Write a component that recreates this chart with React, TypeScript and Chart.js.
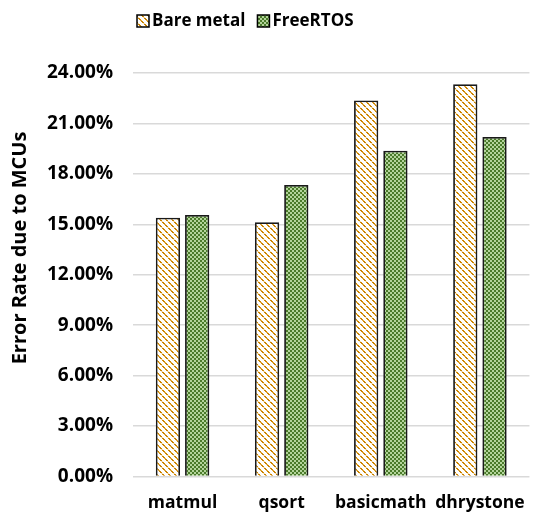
import React, { useEffect, useRef } from "react";
import { Chart, registerables } from "chart.js";

Chart.register(...registerables);

const categories = ["matmul", "qsort", "basicmath", "dhrystone"];
const bareMetal = [15.39, 15.12, 22.36, 23.33];
const freeRTOS = [15.55, 17.34, 19.38, 20.19];
const seriesNames = ["Bare metal", "FreeRTOS"];
const yTicks = [0, 3, 6, 9, 12, 15, 18, 21, 24];
const yTitle = "Error Rate due to MCUs";

const FONT = "'Open Sans'";
const FS = 17;

function stripePattern(ctx: CanvasRenderingContext2D): CanvasPattern {
  const c = document.createElement("canvas");
  c.width = 6;
  c.height = 6;
  const g = c.getContext("2d")!;
  g.fillStyle = "#ffffff";
  g.fillRect(0, 0, 6, 6);
  const cols = ["#CC8400", "#CC8400", "#E0A636", "#CC8400", "#CC8400", "#F3D9A6"];
  for (let i = 0; i < 6; i++) {
    g.fillStyle = cols[i];
    g.fillRect(i, i, 1, 1);
    g.fillRect((i + 1) % 6, i, 1, 1);
  }
  return ctx.createPattern(c, "repeat")!;
}

function checkerPattern(ctx: CanvasRenderingContext2D): CanvasPattern {
  const c = document.createElement("canvas");
  c.width = 4;
  c.height = 4;
  const g = c.getContext("2d")!;
  g.fillStyle = "#B3D49B";
  g.fillRect(0, 0, 4, 4);
  g.fillStyle = "#4A7A2A";
  g.fillRect(0, 0, 2, 2);
  g.fillRect(2, 2, 2, 2);
  return ctx.createPattern(c, "repeat")!;
}

export default function App() {
  const ref = useRef<HTMLCanvasElement>(null);
  useEffect(() => {
    const canvas = ref.current!;
    const ctx = canvas.getContext("2d")!;
    const pStripe = stripePattern(ctx);
    const pCheck = checkerPattern(ctx);
    const fills = [pStripe, pCheck];

    const legendPlugin = {
      id: "customLegend",
      afterDraw(chart: any) {
        const c = chart.ctx as CanvasRenderingContext2D;
        c.save();
        c.font = `bold ${FS}px ${FONT}`;
        c.textBaseline = "middle";
        const y = 21;
        let x = 137;
        seriesNames.forEach((name, i) => {
          c.fillStyle = fills[i];
          c.fillRect(x, y - 6, 12, 12);
          c.strokeStyle = "#000";
          c.lineWidth = 1.5;
          c.strokeRect(x, y - 6, 12, 12);
          c.fillStyle = "#000";
          c.fillText(name, x + 15, y);
          x += 15 + c.measureText(name).width + 12;
        });
        c.restore();

        // y-axis title
        c.save();
        c.font = `bold 20px ${FONT}`;
        c.fillStyle = "#000";
        c.textAlign = "center";
        c.textBaseline = "alphabetic";
        c.translate(26, 248);
        c.rotate(-Math.PI / 2);
        c.fillText(yTitle, 0, 0);
        c.restore();
      },
    };

    const chart = new Chart(canvas, {
      type: "bar",
      data: {
        labels: categories,
        datasets: [
          {
            label: seriesNames[0],
            data: bareMetal,
            backgroundColor: pStripe,
            borderColor: "#1a1a1a",
            borderWidth: 1.8,
            barPercentage: 0.83,
            categoryPercentage: 0.59,
          },
          {
            label: seriesNames[1],
            data: freeRTOS,
            backgroundColor: pCheck,
            borderColor: "#1a1a1a",
            borderWidth: 1.8,
            barPercentage: 0.83,
            categoryPercentage: 0.59,
          },
        ],
      },
      options: {
        animation: false,
        responsive: false,
        layout: { padding: { top: 73, right: 3, left: 0, bottom: 0 } },
        plugins: {
          legend: { display: false },
          tooltip: { enabled: false },
        },
        scales: {
          x: {
            grid: { display: false },
            border: { display: false },
            ticks: {
              color: "#000",
              font: { family: FONT, weight: "bold", size: 17.5 },
              padding: 8,
              autoSkip: false,
              maxRotation: 0,
            },
            afterFit(scale: any) {
              scale.height = 40.5;
            },
          },
          y: {
            min: 0,
            max: 24,
            afterBuildTicks(scale: any) {
              scale.ticks = yTicks.map((v) => ({ value: v }));
            },
            grid: { color: "#D9D9D9", lineWidth: 1.5, drawTicks: false },
            border: { display: false },
            ticks: {
              color: "#000",
              font: { family: FONT, weight: "bold", size: 19 },
              padding: 20,
              callback: (v: any) => Number(v).toFixed(2) + "%",
            },
            afterFit(scale: any) {
              scale.width = 133;
            },
          },
        },
      },
      plugins: [legendPlugin],
    });
    return () => chart.destroy();
  }, []);
  return (
    <div style={{ position: "fixed", left: 0, top: 0, width: 533, height: 517, background: "#fff" }}>
      <canvas ref={ref} width={533} height={517} style={{ width: 533, height: 517 }} />
    </div>
  );
}
